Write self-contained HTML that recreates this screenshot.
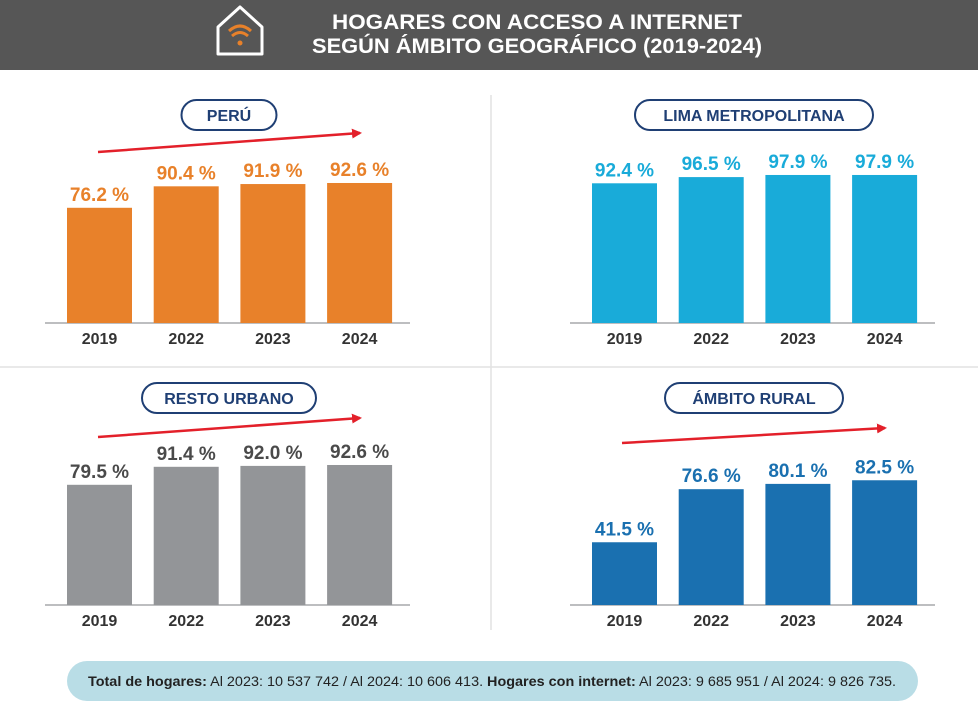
<!DOCTYPE html>
<html><head><meta charset="utf-8">
<style>
body{margin:0;width:978px;height:717px;background:#fff;overflow:hidden;font-family:"Liberation Sans",sans-serif;}
</style></head>
<body>
<svg width="978" height="717" viewBox="0 0 978 717" id="svg" font-family="Liberation Sans, sans-serif">
  <defs><marker id="ah" markerWidth="10" markerHeight="10" refX="8" refY="5" orient="auto" markerUnits="userSpaceOnUse"><path d="M0,0 L10,5 L0,10 z" fill="#e3202a"/></marker></defs>
  <rect x="0" y="0" width="978" height="70" fill="#565656"/>
  <g>
    <path d="M218,27 L240,7 L262,27 L262,54 L218,54 Z" fill="none" stroke="#fff" stroke-width="3" stroke-linejoin="round"/>
    <path d="M229,31 Q240,21 251,31" fill="none" stroke="#e8812a" stroke-width="3"/>
    <path d="M232,36 Q240,29 248,36" fill="none" stroke="#e8812a" stroke-width="3"/>
    <circle cx="240" cy="43" r="2.5" fill="#e8812a"/>
  </g>
  <text x="537" y="29" text-anchor="middle" fill="#fff" font-weight="bold" font-size="21" textLength="410" lengthAdjust="spacingAndGlyphs">HOGARES CON ACCESO A INTERNET</text>
  <text x="537" y="53" text-anchor="middle" fill="#fff" font-weight="bold" font-size="21" textLength="450" lengthAdjust="spacingAndGlyphs">SEGÚN ÁMBITO GEOGRÁFICO (2019-2024)</text>
  <line x1="491" y1="95" x2="491" y2="630" stroke="#e2e2e2" stroke-width="1.5"/>
  <line x1="0" y1="367" x2="978" y2="367" stroke="#e2e2e2" stroke-width="1.5"/>
  <rect x="67" y="661" width="851" height="40" rx="20" fill="#b9dde6"/>
  <text x="492" y="686" text-anchor="middle" font-size="14" fill="#222" textLength="808" lengthAdjust="spacingAndGlyphs"><tspan font-weight="bold">Total de hogares:</tspan> Al 2023: 10 537 742 / Al 2024: 10 606 413. <tspan font-weight="bold">Hogares con internet:</tspan> Al 2023: 9 685 951 / Al 2024: 9 826 735.</text>
  <g id="charts"></g>
</svg>
<script>
const years = ["2019","2022","2023","2024"];
const peruValues = [76.2, 90.4, 91.9, 92.6];
const limaValues = [92.4, 96.5, 97.9, 97.9];
const restoValues = [79.5, 91.4, 92.0, 92.6];
const ruralValues = [41.5, 76.6, 80.1, 82.5];
const panels = [
  {name:"peru", title:"PERÚ", vals:peruValues, x0:67, base:323, pill:[229,115,95], bar:"#e8812a", lab:"#e8812a", arrow:[98,152,360,133]},
  {name:"lima-metropolitana", title:"LIMA METROPOLITANA", vals:limaValues, x0:592, base:323, pill:[754,115,238], bar:"#19abd9", lab:"#19abd9", arrow:null},
  {name:"resto-urbano", title:"RESTO URBANO", vals:restoValues, x0:67, base:605, pill:[229,398,174], bar:"#939598", lab:"#4a4a4a", arrow:[98,437,360,418]},
  {name:"ambito-rural", title:"ÁMBITO RURAL", vals:ruralValues, x0:592, base:605, pill:[754,398,178], bar:"#1a70b0", lab:"#1a70b0", arrow:[622,443,885,428]}
];
const NS="http://www.w3.org/2000/svg";
const root=document.getElementById('charts');
function mk(tag,attrs,parent){const e=document.createElementNS(NS,tag);for(const k in attrs)e.setAttribute(k,attrs[k]);parent.appendChild(e);return e;}
const yScale=(v,base)=>base - v*1.512;
const xScale=(i,x0)=>x0 + i*86.7;
panels.forEach(p=>{
  const g=mk('g',{},root);
  
  
  const pr=mk('rect',{x:p.pill[0]-p.pill[2]/2,y:p.pill[1]-15,width:p.pill[2],height:30,rx:15,fill:'#fff',stroke:'#1f3f74','stroke-width':2},g);
  
  
  const pt=mk('text',{x:p.pill[0],y:p.pill[1]+6,'text-anchor':'middle','font-size':16,'font-weight':'bold',fill:'#1f3f74'},g);
  pt.textContent=p.title;
  
  
  if(p.arrow){
    const a=mk('line',{x1:p.arrow[0],y1:p.arrow[1],x2:p.arrow[2],y2:p.arrow[3],stroke:'#e3202a','stroke-width':2.5,'marker-end':'url(#ah)'},g);
    
    
  }
  const bl=mk('line',{x1:p.x0-22,y1:p.base,x2:p.x0+343,y2:p.base,stroke:'#a7a9ac','stroke-width':1.5},g);
  
  
  p.vals.forEach((v,i)=>{
    const x=xScale(i,p.x0), y=yScale(v,p.base);
    const r=mk('rect',{x:x,y:y,width:65,height:p.base-y,fill:p.bar},g);
    
    
    const t=mk('text',{x:x+32.5,y:y-7,'text-anchor':'middle','font-size':19,'font-weight':'bold',fill:p.lab},g);
    t.textContent=v.toFixed(1)+' %';
    
    
    const yl=mk('text',{x:x+32.5,y:p.base+21,'text-anchor':'middle','font-size':16,'font-weight':'bold',fill:'#333'},g);
    yl.textContent=years[i];
    
    
  });
});
</script>
</body></html>
